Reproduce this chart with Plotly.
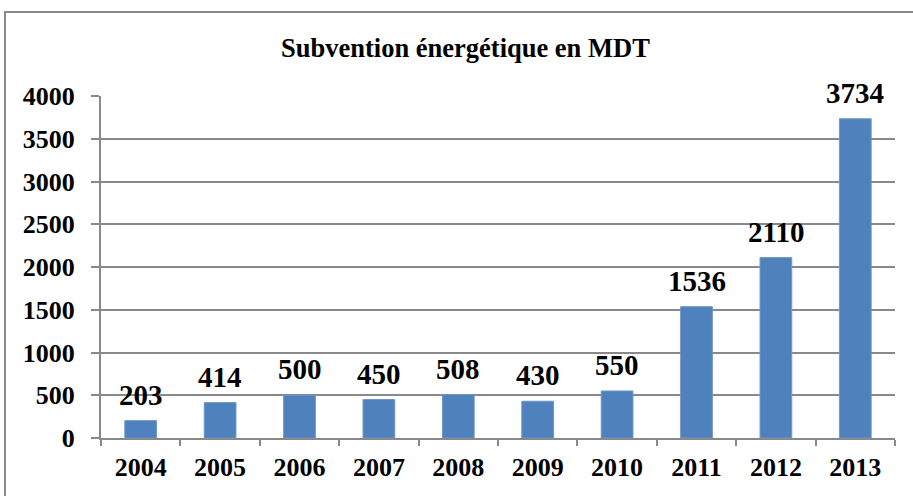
import plotly.graph_objects as go

years = ["2004", "2005", "2006", "2007", "2008", "2009", "2010", "2011", "2012", "2013"]
values = [203, 414, 500, 450, 508, 430, 550, 1536, 2110, 3734]
title_text = "Subvention énergétique en MDT"

W, H = 913, 496
L, R, T, B = 101, 18, 96, 58
pw, ph = W - L - R, H - T - B

font_family = "Liberation Serif, Times New Roman, serif"
gray = "#898989"

fig = go.Figure()
fig.add_trace(go.Bar(
    x=years, y=values,
    marker=dict(color="#4F81BD", line=dict(color="#6f97c8", width=1)),
    width=0.4,
    hoverinfo="skip",
))

annotations = [
    dict(x=i, y=v, text=str(v), xref="x", yref="y", showarrow=False,
         yanchor="bottom", yshift=8,
         font=dict(family=font_family, size=29, color="black", weight="bold"))
    for i, v in enumerate(values)
]
annotations.append(dict(
    x=(465 - L) / pw, y=1 + (T - 48) / ph, xref="paper", yref="paper",
    text="<b>" + title_text + "</b>", showarrow=False, xanchor="center", yanchor="middle",
    font=dict(family=font_family, size=26.5, color="black"),
))

fig.update_layout(
    width=W, height=H,
    margin=dict(l=L, r=R, t=T, b=B),
    paper_bgcolor="white", plot_bgcolor="white",
    showlegend=False,
    annotations=annotations,
    shapes=[dict(type="rect", xref="paper", yref="paper",
                 x0=(5 - L) / pw, x1=2, y0=-1, y1=1 + (T - 12) / ph,
                 line=dict(color=gray, width=2), fillcolor="rgba(0,0,0,0)", layer="below")],
    xaxis=dict(
        type="category", range=[-0.5, len(years) - 0.5], autorange=False,
        showgrid=False, showline=True, linecolor=gray, linewidth=2,
        ticks="outside", ticklen=6, tickcolor=gray, tickwidth=2,
        tickson="boundaries", tickangle=0, ticklabelstandoff=5,
        tickfont=dict(family=font_family, size=26, color="black", weight="bold"),
        fixedrange=True,
    ),
    yaxis=dict(
        range=[0, 4000], dtick=500, tick0=0, autorange=False,
        showgrid=True, gridcolor=gray, gridwidth=2,
        showline=True, linecolor=gray, linewidth=2,
        ticks="outside", ticklen=8, tickcolor=gray, tickwidth=2,
        ticklabelstandoff=11,
        tickfont=dict(family=font_family, size=26, color="black", weight="bold"),
        zeroline=False, fixedrange=True,
    ),
    bargap=0.6,
)

fig.write_html(
    "out.html",
    config={"displayModeBar": False},
    post_script="document.body.style.margin='0';document.body.style.overflow='hidden';",
)
